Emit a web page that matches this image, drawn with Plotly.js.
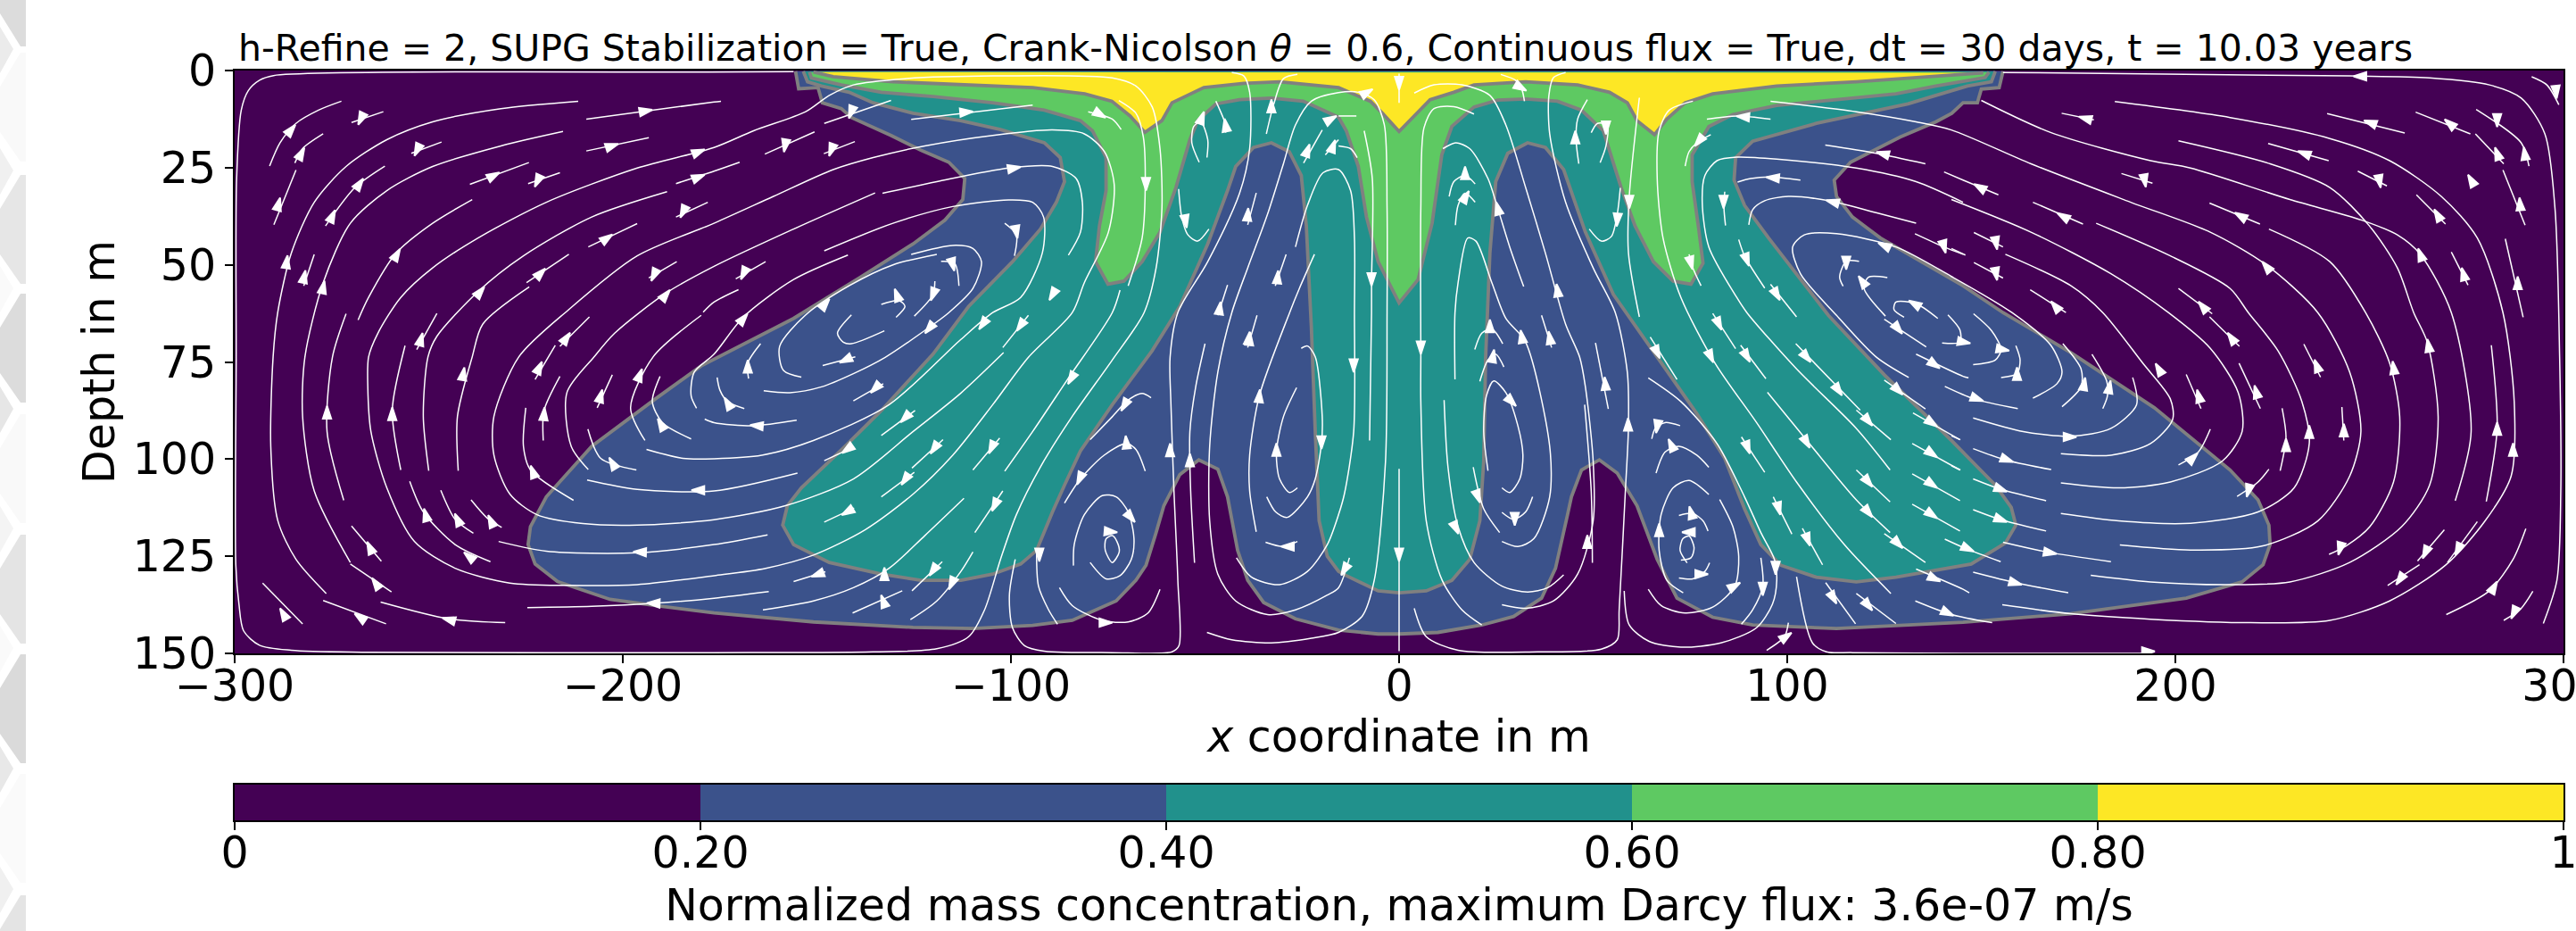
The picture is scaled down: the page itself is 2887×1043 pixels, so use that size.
<!DOCTYPE html>
<html><head><meta charset="utf-8">
<script src="https://cdn.plot.ly/plotly-3.0.1.min.js"></script>
<style>html,body{margin:0;padding:0;background:#fff}#chart{width:2887px;height:1043px}</style>
</head><body><div id="chart"></div>
<script>
// Filled band boundaries [x in m, depth in m]
const level20 = [-155.5,0.2,-154.7,4.7,-149.7,4.4,-148.6,8.3,-143.7,9.8,-141.1,12.1,-130.9,16.7,-123.2,20.5,-116,23.6,-111.9,27.8,-112.4,33.2,-117,38.5,-125.2,44.6,-138.6,53.1,-156,63.8,-179.8,76,-191.6,84.5,-208,96.7,-219.7,109.7,-223.8,117.4,-224.4,122,-222.6,127,-216.8,131.5,-203.3,136.1,-191.6,137.7,-176.5,139.6,-150.9,141.9,-125.2,143.3,-109.8,143.6,-94.4,142.8,-84.2,141.5,-72.9,136.5,-67.8,131.2,-65.2,127.3,-62.6,118.9,-60.6,112,-56.5,104,-51.6,100.2,-46.7,102.6,-44.2,109.7,-41.6,123.5,-39,131.2,-34.9,136.9,-26.7,141.1,-15.6,144,-5.4,145,0,145,10,144.6,21.3,142.7,29.5,140.5,36.7,135.8,40.3,128.1,43.4,114.3,44.4,109.7,47,102.8,51.6,100.2,56.2,103.6,61.3,112,66.5,125.8,71.6,135.8,80.8,140.7,91.1,142.7,112.7,143.6,145.3,142,173,139.8,202.8,135.8,217.2,131.6,222.6,127.2,224.4,122,224.1,117,221.3,110.5,214.1,102.8,194.6,86.8,173.1,72.6,155.6,62.3,145.3,55.4,124,43.1,116.8,37.7,112.7,32.4,112.1,28.2,116.3,23.6,129.1,17.1,138.3,13.2,142.4,11,145.3,8.3,149,8.3,150,4.8,154.6,4.4,155.6,0.2];
const level40 = [-153.5,0.2,-152.4,2.9,-148.8,4,-141.7,5.6,-135.5,8.3,-125.2,11,-113,12.9,-102.7,15.2,-91.4,18.6,-87.3,22.4,-86.2,28.6,-88.3,33.9,-92.4,40.8,-99.6,49.2,-110.9,60.7,-120.1,73,-133.4,87.5,-142.7,96.7,-154,107.4,-157.6,112,-158.8,117,-156,122,-146.8,126.6,-133.4,129.6,-123.2,131.2,-112.9,131.2,-104.7,129.6,-97.5,127,-93.4,123.5,-89.3,113.6,-86.2,106.7,-82.1,97.9,-73.9,86,-63.7,72.2,-56.5,60.7,-49.3,44.6,-44.2,30.9,-42.1,24.7,-37.5,19.8,-32.9,18.6,-28.3,20.9,-25.2,27,-23.9,40,-22.6,66.1,-21.6,92.9,-20.6,115.9,-18.5,125,-15.6,128.9,-13.6,130,-5.4,133.9,0,134.4,7,133.9,13.6,131.2,18.2,125.8,20.8,115.9,21.8,100.6,22.3,73.7,23.4,46.9,24.9,28.6,28,21.3,33.1,18.6,37.7,19.8,42.4,25.5,48,41.6,55.2,57.6,66.5,73.7,76.7,88.3,83.9,99.8,89,112.8,93.2,122,98.3,127.3,107.5,130.4,117.8,131.6,128,130.4,142.3,128,147.4,127,156.2,121.6,158.9,117,157.7,112.4,153.6,106.7,142.3,95.2,125,78.3,110.6,63,95.2,43.1,89,34.7,86.3,28.2,86.7,22.4,91.1,18.2,107.5,13.6,118.8,11.3,131.1,8.6,138.3,6.4,146.4,4,152.6,2.9,153.6,0.2];
const level60 = [-151.9,0.4,-151.4,1.9,-143.7,3.7,-133.4,5.6,-120.1,6.7,-104.7,8.3,-91.4,10.2,-82.1,12.9,-79,15.5,-75.5,22.4,-75.5,30.9,-77.2,40,-78.2,49.2,-75,55,-70.9,54.2,-66.2,49.2,-61.6,41.6,-57.5,30.1,-53.9,17.8,-51.9,12.9,-47.2,8.6,-41.1,7.5,-32.9,7.1,-24.7,7.9,-15.6,12,-13.6,15.5,-10.5,24.7,-8.4,37.7,-5.4,49.2,0,59.8,4.9,53.8,8.5,39.3,11,21.7,13.6,14.4,19.3,9.4,25.4,7.6,32.6,7.3,40.8,7.9,47,10.2,52.6,15.5,57.2,30.1,60.8,40,65.5,49.2,70.6,54.2,75.2,55,78.3,49.6,77.2,40.8,75.5,28.6,75.5,21.7,79.8,14.4,86,11.3,97.3,9,112.7,7.5,128,6,138.3,4,146.4,2.5,151,1.8,152,0.4];
const level80 = [-150.9,0.4,-145.8,1.6,-130.4,2.9,-113,3.7,-94.4,4.4,-81,6,-74,7.9,-69.3,11.7,-65.5,15.9,-61.1,12.9,-58.5,8.3,-50.3,4.4,-40,3.3,-30.8,2.9,-15.6,4.4,-7.4,7.9,-4.3,11,0,15.7,4.9,10.6,8,7.5,14.1,5.6,19.3,3.7,32.6,2.9,46,3.7,54.2,5.6,58.8,8.3,61.3,12.9,65.8,16.5,69,12.5,73.7,8.3,80.8,6,97.3,4,117.8,2.9,133.2,1.9,145.3,1,150.5,0.6];

// Streamlines, each a flat list x,depth,x,depth...
const streamsLeft = [
[-156,0.3,-178,0.4,-290,1.3,-293.6,2.5,-296.5,5.2,-298.3,10.2,-299.5,28,-299.6,74,-299.7,127.3,-298.9,137.3,-297.7,144.2,-293.6,147.9,-285.4,149.2,-266.6,149.7,-176.5,149.8,-135.5,149.6,-119.1,148.8,-110.9,145.7,-106.8,138.8,-102.7,125.8,-98.6,114.3,-92.4,102,-84.2,89,-73.9,74.5,-65.7,62.3,-62.6,50.8,-61.1,35.4,-61.6,20.1,-63.6,9.4,-67.8,4,-73.9,1.9,-104.7,1.4,-127.3,2.1,-140.6,3.7,-146.8,6.4,-152.9,10.6,-166.3,15.5,-176.5,19.8,-196.3,25.1,-219.7,33.9,-237.3,43.1,-249,50.8,-257.2,58.4,-263.1,67.6,-265.5,73.7,-265.7,81.4,-264.9,92.9,-260.8,107.4,-253.7,121.2,-243.2,128.1,-229.1,131.9,-213.9,132.5,-196.3,132.3,-176.5,130,-163.2,128.1,-150.9,124.7,-137.6,118.2,-125.2,109,-115,99,-104.7,86,-95.5,73.8,-84.2,62.3,-81.1,54.6,-74.9,41.6,-73.4,29.3,-75.9,20.9,-81.1,16.3,-89.3,15.3,-104.7,16.7,-122.2,19.4,-135.5,22.4,-145.8,25.5,-161.2,32.4,-176.5,39.3,-196.3,47.7,-213.9,61.5,-226.8,73.7,-233.2,89,-233.2,99,-229.1,109,-222.1,114.3,-210.3,116.6,-196.3,117,-176.5,115.6,-158.1,112,-140.6,105.1,-125.2,92.9,-112.9,83,-101.9,72.6],
[-291,24.6,-288.3,18.6,-284.2,13.6,-278.4,10.2,-272.5,7.9],
[-284.5,23.8,-282.5,20.1,-277.2,16.3],
[-269.9,13.4,-261.7,10.6],
[-211.5,7.9,-231.4,9.8,-249,13.2,-260.8,17.8,-271.3,24.7,-279.5,33.9,-285.4,47,-288.9,62.2,-290.1,73.7,-290.7,96.7,-288.9,115.8,-284.2,125.8,-276.4,134.6],
[-215.4,15.7,-231.4,19.4,-249,24.7,-260.8,30.9,-270.2,39.3,-277.2,54.6,-281.9,73.7,-282.5,89,-279.5,108.2,-270.2,126.6],
[-209.4,12.5,-176.5,8.1,-174.7,7.9],
[-209.4,20.7,-193.3,17.3],
[-254.5,21.3,-246.7,18.4],
[-289.9,39.7,-284.2,25.6],
[-261.3,24.6,-269,30.1,-276.6,40],
[-279.5,47.3,-282.2,55.4],
[-239.4,29.3,-224.2,23.7],
[-224.4,29.1,-216.2,26.3],
[-238.8,33.2,-249,39.3,-258.4,47,-265.5,58.4,-268.2,64.2],
[-193.9,97.5,-184.5,99.8,-176.5,99.9,-164.2,99,-150.9,95.2,-131.4,86,-112.9,69.2,-104.7,62.3,-97.5,58.4,-91.9,46.9,-91.6,37.7,-94.4,33.9,-100.6,33.3,-115,35,-130.4,39.3,-148.1,46.4],
[-133.1,31.6,-119.1,28.6,-100.6,25.1,-89.3,24.7,-83.2,27.8,-81.6,33.9,-82.1,41.6,-85.2,47.5],
[-135,31.5,-156,40.8,-176.5,50.4,-188.9,57.3,-202.1,67.6,-207.4,73.7,-214.4,82.9,-213.3,96.7,-208.9,102.7],
[-142,47.5,-156,53.8,-168.9,63.4,-176.5,73,-181.6,77.6,-182.4,83.7,-181,86.9],
[-186.3,29.1,-176.5,25.9,-169.9,23.6],
[-186.3,37.7,-178.1,33.9],
[-179.3,62.2,-176.5,59.6,-170.2,56.4],
[-170.9,53.6,-163.2,49.2],
[-193.3,53.4,-186.1,49.2],
[-208.9,45.4,-196.3,39.4],
[-224.8,54.6,-213.9,47.3],
[-224.1,55.7,-236.1,65.3,-238.8,73.7,-242.6,89,-242.4,103],
[-188.6,31.2,-208,37.7,-225.6,47.7,-237.3,56.9,-247.9,68.4,-250.2,73.7,-251.4,89,-250,103],
[-208.6,63.4,-216.2,71],
[-217.4,70.7,-220.3,75.6,-222.6,79.5],
[-216.2,78.7,-220.3,87.5,-220.5,95.2],
[-225,86.8,-225.6,96.7,-223.8,102.8,-212.7,110.6],
[-202.7,78.3,-206.6,86.8],
[-179.8,63,-192.2,73.7,-198,86.8,-194.3,95.2],
[-190.4,78.7,-192.4,85.2,-189.8,90.6,-182.4,94.8],
[-256.1,70.8,-259.4,87.5,-257.2,102.8],
[-271.3,62.6,-274.8,73.7,-276.2,92.9,-271.9,110.6],
[-254.9,105.7,-251.4,113.6,-243.2,122,-234.1,126.4],
[-246.9,108,-243.2,115.5,-238.5,119.1],
[-239.1,110.5,-235,115.1,-231.2,117.6],
[-232,121.2,-219.7,123.7,-196.3,124.1,-176.5,122,-162.7,119.5],
[-224.6,138.2,-208,137.9,-191.6,137.1,-176.5,135.8,-162.4,134.1],
[-209.2,105.4,-196.3,107.8,-176.5,108.2,-155,103.6],
[-209,92.3,-205.7,99.8,-196.5,102.8],
[-269.9,117.2,-262.2,126.3],
[-270.2,127,-259.6,134.2],
[-277.2,136.4,-261,142.4],
[-292.8,131.9,-282.5,142.4],
[-262.4,136.8,-244.9,141.1,-230.3,142.1],
[-247.9,62.5,-253.1,71.8],
[-178.9,89.7,-176.5,90.6,-166.3,91.4,-155.2,90],
[-175.7,79,-175,82.2,-173,85.2,-168.7,87],
[-167.6,79.3,-167.8,75.3,-164.5,70.3],
[-119.1,47.3,-130.4,50,-141.7,55.4,-153,63,-159.6,71,-158.6,77.2,-154,78.9],
[-163.7,82.4,-157,82.9,-148.8,81.4,-140.6,78,-132.4,73.8,-122.2,66.9,-116,62.3,-109.8,56.1,-107.6,49.2,-109.8,45.8,-115,45,-125.7,47.3],
[-141.1,62.9,-144.7,67.6,-143.2,69.9,-141.1,70.3,-132.6,67],
[-148.5,75.9,-140.1,73.7],
[-148.1,116.2,-140.4,112.6],
[-133.4,109.7,-124.9,103.4],
[-125.5,102.3,-117.5,95],
[-133.4,93.9,-124.7,87.5],
[-102.1,71.3,-95.5,63],
[-148.1,100.4,-140.6,96.9],
[-140.6,85,-132.9,80.6],
[-156,131.5,-147.8,129],
[-140.8,139.6,-128,133.9],
[-125.5,133.9,-117.7,126.4],
[-163.9,138.8,-150.9,136.5,-140.6,133.1,-131.4,128.1,-122.2,119.7,-112.1,110.1],
[-125.9,141.3,-119.1,136.5,-112.9,128.9,-109.8,123.9],
[-109.3,118.9,-102.1,108.2],
[-109.8,102.8,-102.9,94.6],
[-101.6,103.1,-94.4,92.9,-85.7,79.9,-73.9,62.3,-71.9,56.5],
[-63.9,84.2,-66.2,83.1,-69.8,84.8,-73.9,89.1,-79.6,95],
[-65.4,103.1,-67.8,97.5,-70.3,96,-76,99,-82.1,105.1,-86.2,111.3],
[-83.9,127.4,-83.7,122,-81.1,114.3,-76.5,109.4,-72.9,109.7,-69.8,113.6,-68.3,120.5,-69,125.8,-71.9,130,-75.5,130.8,-79.6,126.6],
[-73.9,126.6,-75.7,123.5,-75.5,120.5,-73.9,119.7,-72.7,121.2,-72.1,123.9,-73.9,126.6],
[-87.5,133.1,-84.2,137.7,-76.5,141.5,-69.8,141.9,-64.7,139.6,-61.6,133.5],
[-93.4,123.5,-92.9,132.7,-90.3,138.8,-88,142.5],
[-98.9,125.8,-100.4,135,-99.6,143.4,-96.5,148,-91.4,149.4,-73.9,149.8,-58.5,149.6,-56.7,148,-57,131.2,-58,108.2,-58.8,85.2,-59,73.8,-57,62.3,-49.3,49.2,-41.1,31.6,-38.5,20.1,-38.5,5.6,-40,1.4,-43.1,0.5],
[-52.7,126.7,-53.7,108.2,-53.9,92.9,-52.4,81.4,-50,70.3],
[-49.5,144.6,-43.1,146.5,-32.9,147.3,-22.6,146.1,-15.6,144.6,-9.5,140.4,-6.4,131.2,-3.5,100.6,-3.1,62.3,-3.1,35.4,-3.8,14,-6.4,7.5,-10.5,5.6,-15.6,5.7,-22.6,7.9,-26.7,14,-29.8,24,-33.9,37,-39,50.8,-43.1,62.3,-46.7,77.6,-48.8,96.7,-48.8,115.9,-46.7,129.6,-42.1,136.5,-33.9,140,-26.7,138.8,-18.5,135,-15.6,133.1,-12.8,125.4],
[-21.8,47.3,-25.7,56.1,-28.2,62.3,-36,83.7,-38.5,99,-38.5,108.2,-36.8,118.7],
[-41.9,125.4,-38,130.4,-30.8,132.3,-23.6,128.9,-18.5,122,-15.6,114.3,-14.1,109,-11.7,92.9,-11.5,62.3,-11.5,43.1,-12.5,30.9,-15.6,25.5,-19.6,26.3,-23.6,34.7,-26.7,45.4],
[-25.2,71.5,-23.6,70.9,-21.6,73.7,-19.8,89.1,-20,96,-21.6,105.1,-23.6,109.7,-28.8,115,-31.8,113.6,-34.1,109.7],
[-26.4,81.6,-29.8,89.1,-31.6,98.3,-30.8,105.1,-28.2,108.6,-26.2,107.4],
[-34.4,121.4,-29.8,122.5,-26.2,121.2],
[-36.6,63,-39,71.3],
[-163.4,21.5,-150.6,15.8],
[-148.1,13.6,-130.9,7.7],
[-148.2,21.4,-140.2,18.3],
[-125.7,12.6,-94.4,8.9],
[-80.1,10.6,-73.9,12.5,-71.6,15.2],
[-72.2,7.7,-67.8,11,-65.9,17.1,-65.4,29.3,-66.2,43.1,-69.8,55.4],
[-101.6,39.3,-98.6,42.3,-99.1,47.7],
[-118,49.1,-114.5,49.6,-113.4,55.4],
[-119.6,54.2,-120.1,57.7,-124.9,63.2],
[-133.4,60.2,-128.8,59.2,-127.3,60.7,-129.6,63.5],
[-56.8,30.5,-56,37.7,-54.4,42.3,-51.9,43.9,-49,40.8],
[-51.5,23.6,-53.4,18.6,-52.9,14.4,-51.1,13.2,-49.3,17.8,-49.5,22.4],
[-47.2,7.9,-44.7,14,-44.7,16],
[-26.2,1,-29.8,2.1,-32.3,8.7,-34.2,16.3],
[-29.1,47.3,-31.9,55.4],
[-44.2,55.2,-46.7,63],
[-36.8,31.5,-39,39.7],
[-19.8,15.3,-24.6,23.8],
[-15.6,17.8,-19,21.7]
];
const streamsCenter = [
[0,0.8,0,8.3],
[-15.6,11.7,-11,11.7],
[-9,15.5,-6.9,27.8,-7.1,54.6,-7.1,62.3,-7.6,95.2],
[3.9,5.8,9,3.7,16.2,3.7,23.4,6.4,27.5,14,32.6,30.1,37.7,47,42.9,65.3,46.5,73.7,48,81.4,50,100.5,50,115.9,46,129.6,39.8,136.5,32.6,138.4,26.5,137.5],
[19.3,11.2,14.1,9.3,9,9.8,6.4,14.8,5.6,35.4,5.6,73.7,5.6,85.2,7,115.9,11.1,131.2,16.2,138.8,21.3,142.7],
[-15.6,19.4,-12.5,20.1,-10.8,22.4],
[0,102.5,0,149.4],
[11.6,84.8,12.6,102.1,15.2,117.4,19.3,126.6,26.5,132.7,33.1,134.2,38.3,133.1,42.4,129.8],
[11.3,20.1,14.6,18.6,18.2,20.1,22.9,27.8,25.4,35.4,28.5,45.4,32.1,55.6],
[12.9,32.4,14.1,28.6,17,27,19.6,29.2],
[14.5,39.8,15.2,34.7,17,31.6,19.6,33.9],
[14.4,79.5,14.4,62.3,15.2,54.6,17.7,43.1,19.8,43.9,23.9,54.6,27.5,63.8,32.6,69.9,38.8,96.7,38.8,109.7,34.7,120.5,30.6,122.5,26.5,121.2],
[19.5,71.8,21.3,67.6,23.9,66.5,26.7,70.3],
[20.8,80,22.9,74.5,24.9,73,27,76.3],
[26.2,1,30,2.5,31.6,4.8,32.3,7.9],
[42.9,0.5,39.8,1.8,38.6,6.4,38.8,16.3,42.9,33.9,50,50.8,55.7,62.3,58.8,77.6,59.1,91.4,58.3,108.2,56.7,138.8,56.2,146.5,52.1,148.9,35.7,149.6,15.2,149.2,7,145.7,3.9,138.4],
[48.5,7.5,46,12.5,45.6,17.8,46.3,24],
[49.5,16,51.1,13.6,53.6,14,53.3,19.4,51.8,23.7],
[61.9,7,59.3,32.4,59.1,47,61.9,63.4],
[49,40.8,52.1,43.9,54.7,42.7,56.2,37,57,30.2],
[75.7,7.9,69.6,10.2,67,15.5,66.5,27.8,68,43.1,72.6,58.4,81.4,75.3,92.1,90.6,102.4,105.9,114.7,122,126.7,134.6],
[64.2,79.1,72.6,85.2,81.9,96,89,109.7,93.2,118.9,96.7,125.8,97.3,131.2,96.2,137.3,92.1,143.4,82.9,147.3,72.6,148.4,64.4,146.9,59.3,142.7,58,133.9],
[19.1,102.1,21.8,112.8,25.9,118.9],
[22.9,103,21.8,92.9,22.5,83.7,24.4,79.9,27.5,82.9,30.6,91.4,31.9,99,31.1,105.1,28.5,108.6,26.5,107.4],
[26.5,113.7,29.5,115.5,32.6,113.6,34.4,109.7],
[36.7,63,39.3,71.3],
[50.6,70.1,53.9,87.1],
[47.8,86,49.5,108.2,49.8,126.7],
[79.3,12.5,87,11.7,95.7,12.5],
[80.3,16.5,76.7,18.6,74.7,20.9,73.7,24.6],
[74.7,47.3,75.7,50.8,77.8,55.4],
[103.4,28.2,95.7,27.4,90.6,27.8,87.2,28.7],
[145.3,33.9,133.2,28.6,117.8,25.1,97.3,22.8,87,22.3,81.9,23.2,78.8,27,78.1,33.9,79.8,45.4,87,58.4,89.6,62.3,102.4,76.8,117.8,92.1,126.5,102.8],
[133.2,39.3,122.9,36.6,110.6,33.5,100.3,32.4,94.2,33.5,91.1,35.8,90.1,39.7],
[83.9,31.2,83.7,35.4,84.1,39.9],
[87.5,43.5,89,47.7,94.2,56],
[95.7,55,102.4,63.4],
[131.3,79,122.9,73.7,112.7,63,103.4,52.3,101.4,45.4,104.4,42.3,112.7,42,128,45.4,142.3,53,157.9,62.3,167.9,70.7,170.8,77.6,169.5,80.6,163.3,84.3],
[109.8,19.2,122.9,21.3,135.6,24],
[140.4,26.1,145.3,28.2,154.4,32],
[132.9,42,140.4,45.4,145.3,47.3],
[118.5,49.1,115.2,49.1,113.5,53.1,114.4,55.5],
[125.8,53.3,120.9,53.2,119.8,56.1,125.3,63.2],
[138.8,63.8,133.2,60,128,59.6,127.5,61.5,130.1,63.5],
[125,64,135.8,71.1],
[141.4,62.9,144.5,66.8,144.5,69.9,139.9,70.1],
[80.8,62.5,86.7,71.6],
[88,70.7,94.5,79.3],
[64.7,68.6,71.6,79.5],
[102.2,70.3,118.8,87.4],
[94.9,82.8,104.4,94.4,117.8,110.5,126.5,118.9],
[117.8,87.4,126.7,95],
[88.2,94.3,94.2,103.4],
[117.8,102.8,126.5,111],
[96.4,109.7,101.2,119.3],
[103.9,117.8,109.1,127.2],
[125,119.2,135.6,126.6],
[109.9,131.8,117.6,142.4],
[117.8,134.6,128,142.3],
[133,136.5,142.3,140,152.8,142.1],
[133.2,128.3,145.3,133.5,146.9,134.4],
[133.2,73,145.3,78.7,146.7,79.1],
[125,79.7,135.6,87.1],
[140.6,81.3,148.1,84.5,159.4,87],
[132.4,88.1,144.5,95],
[132.2,96,144.5,102.8],
[132.2,103.8,144.5,110.7],
[132.2,111.6,144.5,118.5],
[140.6,120.6,146.2,123.1,155,126.4],
[93.2,125.4,93.7,132.7,91.1,138.8,88.2,142.5],
[100.3,142.1,99.3,145.7,94.7,149.2],
[102.4,130.3,106.5,147.3,110.1,149.6,116.8,149.8,145.3,150,193,150],
[64.2,133.5,67.5,137.7,73.7,139.6,80.8,138.1,86.5,132.7,87.5,125.1,86,117.4,82.6,110.4],
[79.8,109.1,74.7,105.5,70.6,107.4,67.5,114.3,67,123.5,69,131.2,73.2,134.4],
[66.2,103.6,68.5,98.2,72.1,96.7,76.7,99,79.8,102.1],
[65.1,94.8,66,92.1,68.5,90.6,72.4,91.4],
[72.1,114.5,75.7,114,78.3,115.9,79.6,118.5],
[74.2,126.7,72.4,123.5,73.1,120.5,74.7,119.8,76,122.8,75.2,125.4,72.6,126],
[72.1,130.6,75.7,130.8,78.8,128.9,80,126.7]
];
const streamsRight = [
[155.6,0.5,244.9,1.4,265.5,1.9,280.9,3.7,289.1,7.1,295.2,16.3,297.8,35.4,299,73.7,299.3,108.2,298.3,131.2,294.8,142.3],
[291.8,1.6,295.7,3.7,298.8,8.8],
[95.7,7.9,117.8,10.6,133.2,13.2,142.3,15.3,162.8,24,188.5,33.9,209,41.6,223.4,50,236.7,62.3,244.9,77.6,247.8,92.9,244.9,104.4,236.7,115.9,222.3,122.4,203.9,123.4,185.7,122.1],
[142.3,33.2,162.8,41.6,183.4,52.3,198.2,62.3,209,71.5,216.2,82.9,217.2,92.9,212.1,100.5,198.7,105.9,185.4,107.4,170.5,106.1],
[184.4,8,214.1,12.1,239.8,17.5,255.2,23.2,268.5,32.4,277.8,43.1,284.4,62.3,287.3,85.2,286.5,104.4,279.8,115.9,269.6,127.3,255.2,136.5,239.8,141.5,219.3,142.1,193.6,141.2,173.1,139.8,155.4,137.5],
[150,7.7,168,16,193.6,23.2,203.9,25.1,229.5,33.2,248,38.5,257.2,42.3,263.1,47.3,271.1,62.3,276.2,92.9,272.1,110.7],
[200.8,18.1,224.4,24,239.8,30.1,250,40,257.2,50.8,261.4,62.3,264.9,69.9,267.7,89.1,265.5,106.7,258.3,117.4,244.9,126.6,229.5,131.6,214.1,132.3,193.6,131.6,178.2,129.9],
[224.1,40.8,239.8,49.2,249,62.3,255.2,75.3,257.8,89.1,256.2,105.9,250.1,117.4,243.9,122.4,239.6,124.5],
[179.6,39.3,198.7,47.7,214.1,56.1,218.8,62.3,226.5,72.2,232.6,85.2,234.5,96,230.6,107.4,221.3,113.6,203.9,116.5,185.4,115.9,170.5,114],
[156.2,47.3,173.1,55.4,181.3,62.3,191.6,75.3,198.7,84.5,199.3,89.8,193.6,96,183.4,99,170.5,98.6],
[147.9,89.4,160.8,92.9,173.1,94.1,183.4,92.1,190,86,189,79],
[171,70.3,175.7,76.8,175.7,81.4,170.8,86.5],
[178.5,73,182.3,79.9,182.5,83.7,181.3,87],
[148,62.6,152.6,66.9,155.1,71.8,153.6,74.5,147.9,75.7],
[158.9,70.8,160,74.5,159.2,78,155.1,79],
[170.7,11,179,12.7],
[239.1,11.1,259.1,16.1],
[261.9,10.7,276,16.3],
[277.5,10,289.1,18.6,291.1,24.6],
[277.3,16.3,284.6,24],
[284.4,25.6,290.1,39.8],
[223.9,18.8,239.5,23.2],
[247,25.9,254.5,29.7],
[186.1,26.5,194.1,29],
[262.1,32,269.6,39.5],
[208.8,34.1,221.8,39.5],
[163.3,33.9,176.2,39.5],
[148.1,41.7,155.6,45.4],
[142.3,45.8,145.9,47.5],
[148.1,49.4,155.6,53.4],
[162.6,56.4,171.8,62.3],
[200.8,56.1,209.5,62.6],
[208.8,63.4,216.5,71],
[271.1,46.7,275.4,55.2],
[285,43.3,289.6,63.5],
[233.1,70.4,237.4,78.9],
[202.8,78.2,206.6,87],
[216.4,75.3,221.9,87],
[227.5,86.9,228.5,94.4,227,103],
[242.9,86.6,243.4,95.2],
[281.4,70.7,282.9,92.1,280.1,110.9],
[200.8,101.5,205.9,98.2,209,92.3],
[215.9,109.6,221.3,105.9,224.1,102.6],
[262.4,126.2,269.3,118.2],
[270.1,126.6,277.8,116.1],
[254.7,132.5,262.9,127.2],
[269.8,140,280.9,133.9,287,125.8,290.3,117.9],
[284.6,141.5,289,138.5,292.1,134],
[142.3,94,144.6,95],
[147.9,97.3,156.2,100.2,168,102.7],
[142.3,101.7,144.6,102.8],
[147.9,105.1,155.1,107.8,166.7,110.7],
[147.9,113,155.1,115.6,166.7,118.5],
[155.6,121.4,166.9,123.9,183.4,126.4],
[147.9,129.1,159.2,131.9,172.4,134.4]
];

// Arrowheads: x, depth, heading in degrees clockwise from up
const arrowsLeft = [
[-285.4,15.2,40],[-282.8,21.3,28],[-267.5,12.5,205],[-253,20.5,205],[-288.7,34.3,15],[-274.8,37.4,25],[-267.8,29.1,35],[-286.6,49.2,8],[-282.1,53,12],[-277.2,55.7,12],[-233.2,27,62],[-202.7,19.4,72],[-194,10.4,80],[-180.4,20.9,68],[-180.4,27.4,68],[-184.5,36.4,205],[-258.2,47.3,30],[-204,43.1,55],[-221.1,52.1,45],[-192,52.7,205],[-236.7,56.9,40],[-188.9,57.7,40],[-214.5,68.8,35],[-252,69.1,15],[-222,28.5,205],
[-241.1,78,10],[-221.5,76.4,25],[-195.6,78.3,20],[-205.7,83.7,15],[-276.2,87.9,0],[-259.4,88.3,0],[-220.3,88.3,5],[-190.2,91,-30],[-202.7,101,-30],[-223.2,103.2,-20],[-180.7,108,-90],[-250.8,114.3,-15],[-242.6,115.5,-25],[-234,115.9,-25],[-265.2,122.7,-25],[-239.7,125,-50],[-195.7,123.9,-88],[-263.7,131.9,-35],[-287.5,139.8,-30],[-267.8,140.7,-55],[-244.9,141.3,-75],[-192.2,137.1,-88],
[-168.9,63.8,40],[-168.9,52.3,205],[-158.2,19.4,190],[-146.3,20.5,200],[-141.2,10.8,200],[-111.4,10.7,85],[-99.1,25.1,80],[-77,11.3,120],[-65.2,29.3,180],[-98.6,41.6,170],[-55,38.9,170],[-50.8,12.1,20],[-44.7,14,-10],[-32.9,9.1,0],[-17.5,12.5,60],[-23.6,20.5,20],[-17,19.4,20],[-39,37,5],[-31.3,53.1,5],[-46.2,61.1,8],[-38.7,68.8,8],[-89.3,57.7,210],[-107.3,65.3,215],[-97.6,65.7,215],[-121.1,66.4,220],[-115,50,165],[-120.1,57.7,200],[-129.4,57.7,-20],[-147.8,60,40],
[-167.8,76.1,0],[-142.7,74.5,245],[-173,85.6,-30],[-135,81.8,225],[-165.6,91.4,-85],[-127.3,89.4,225],[-142.2,97.5,235],[-119.8,97.3,215],[-105,97.1,205],[-84.5,79.3,210],[-127.3,105.3,215],[-142.2,113.6,240],[-104.2,111.9,205],[-70.8,86.2,210],[-70.3,95.6,-5],[-82.3,105.1,205],[-59,97.6,0],[-53.9,100.2,0],[-36,83.7,5],[-38.5,69,5],[-31.6,97.5,0],[-20,95.8,180],[-69.1,115,140],[-74.2,118.7,95],[-92.7,124.7,180],[-132.6,129.5,0],[-149.9,129.7,250],[-120.1,128.7,215],[-115.3,132.1,205],[-132.9,136.5,340],[-75.5,142.1,90],[-28.8,122.5,-90]
];
const arrowsCenter = [
[0,3.3,180],[-8.2,5.6,60],[-7.1,53.8,180],[5.6,71.4,180],[17,26.3,0],[17.2,32.4,30],[25.4,35.4,-15],[23.4,65.7,0],[24.2,73.4,10],[31.4,4.4,120],[45.4,17.1,0],[53.3,14.8,180],[56.2,38.5,185],[59.3,33.9,180],[77.2,18.2,220],[75.2,49.6,165],[88.5,11.9,-85],[96.2,27.6,-85],[83.6,33.9,180],[111.6,33.8,-75],[124.5,21.4,-75],[124.9,45,-65],[89.6,48.8,160],[97.3,57.7,150],[115.2,49.6,180],[119.3,54.2,-35],[132.7,60,-60],[128.6,66.5,140],[140.4,45.4,165],[40.8,56.5,-8],[31.6,68.4,-10],[38.8,68.7,-10],
[-11.7,76,180],[-14.1,128.5,210],[0,124.7,180],[14.6,117.8,155],[20.3,109.7,160],[29,85.2,135],[29.8,115.5,180],[53.1,80.5,-5],[59,91,0],[48.5,121.2,0],[82.4,65.3,155],[80.3,73.7,155],[89.6,73.6,150],[66.5,72.6,155],[105,73.8,140],[113.2,82.3,145],[120.9,90.2,140],[105,95.7,150],[120.9,105.9,140],[120.9,113.7,140],[89.8,97.1,160],[97.8,112.8,165],[105.3,120.8,160],[66.5,91.7,190],[70.1,96.3,-25],[75.2,113.7,-15],[74.5,118.8,-90],[78,129.6,90],[67,118.2,0],[86.5,132.6,60],[97,128.1,180],[93.7,133.5,180],[99.8,145.6,55],[111.9,135.8,150],[120.9,137.7,140],[128.6,121.8,135],[128.6,82.3,135],[138,75.7,125],[137.3,90.7,125],[137.3,98.6,125],[137.3,106.5,125],[137.3,114.3,125],[138,130.8,115],[141.4,139.6,115]
];
const arrowsRight = [
[145.6,69.9,100],[155.6,71.8,100],[159.2,78,0],[149,84.5,110],[176.5,80.6,10],[183,81.4,10],[172.9,94.3,90],[156.7,100.2,110],[204.6,99.6,45],[155.1,107.8,110],[155.1,115.6,110],[146.6,123.1,115],[167.8,124.1,100],[158.9,131.9,105],[218.8,108.2,195],[242.4,123.1,195],[228.5,96.3,0],[234.5,92.9,0],[243.4,92.5,0],[206,83.7,-15],[220.8,82.6,-15],[214.4,68.8,-35],[236.4,75.9,-20],[195.7,76.8,-30],[256.2,76.4,-8],[265.2,70.7,-10],[282.9,92.1,0],[287,97.5,0],[264.4,124.1,205],[272.8,123.3,205],[257.8,131,215],[282.1,132.9,30],[287.2,139.6,205],[193.1,149.5,90],
[247.5,1.5,-90],[298.1,5.6,175],[176.7,12.3,-75],[250.1,13.4,-70],[270.6,13.6,-50],[282.9,12.9,180],[282.9,21.3,-20],[290,21.3,-8],[233.1,21.3,-70],[192.1,28.4,170],[252.6,28.6,170],[276.2,28.2,-30],[216.7,37.4,-60],[171,37.5,-60],[149.5,30,-60],[267.5,37.1,-30],[288.8,34.3,-5],[263.1,47.3,-20],[223.4,50.4,-40],[153.8,44.5,170],[153.8,52.4,170],[274.2,52.3,-15],[288.2,54.6,0],[169,60.6,-40],[207,60.7,-40]
];

const bandColors = ['#440154','#3b528b','#21918c','#5ec962','#fde725'];
const bandEdges = [0,0.2,0.4,0.6,0.8,1];
const barTickLabels = ['0','0.20','0.40','0.60','0.80','1'];
const xTicks = [-300,-200,-100,0,100,200,300];
const depthTicks = [0,25,50,75,100,125,150];

const xs = a => a.filter((_, i) => i % 2 === 0);
const ys = a => a.filter((_, i) => i % 2 === 1);
const FONT = '"DejaVu Sans", sans-serif';
const traces = [];

[level20, level40, level60, level80].forEach((lvl, i) => {
  traces.push({type:'scatter', mode:'lines', x:xs(lvl), y:ys(lvl), fill:'toself', fillcolor:bandColors[i+1],
    line:{width:0}, hoverinfo:'skip', showlegend:false});
  traces.push({type:'scatter', mode:'lines', x:xs(lvl), y:ys(lvl), line:{color:'#808080', width:3.8},
    hoverinfo:'skip', showlegend:false});
});

const sx = [], sy = [];
[...streamsLeft, ...streamsCenter, ...streamsRight].forEach(p => {
  sx.push(...xs(p), null); sy.push(...ys(p), null);
});
traces.push({type:'scatter', mode:'lines', x:sx, y:sy, connectgaps:false,
  line:{color:'#ffffff', width:1.5, shape:'spline', smoothing:0.8}, hoverinfo:'skip', showlegend:false});

const arrows = [...arrowsLeft, ...arrowsCenter, ...arrowsRight];
const rad = a => a * Math.PI / 180;
traces.push({type:'scatter', mode:'markers',
  // the 'arrow' symbol has its tip on the point, the arrays hold the head's centre
  x: arrows.map(a => a[0] + 1.6 * Math.sin(rad(a[2]))),
  y: arrows.map(a => a[1] - 1.6 * Math.cos(rad(a[2]))),
  marker:{symbol:'arrow', size:15, color:'#ffffff', angle:arrows.map(a => a[2]), line:{color:'#ffffff', width:2}},
  hoverinfo:'skip', showlegend:false});

traces.push({type:'bar', orientation:'h', xaxis:'x2', yaxis:'y2',
  y:bandColors.map(() => 0), x:bandColors.map((_, i) => bandEdges[i+1] - bandEdges[i]),
  base:bandEdges.slice(0, -1), width:1, marker:{color:bandColors, line:{width:0}},
  hoverinfo:'skip', showlegend:false});

const axisCommon = {showgrid:false, zeroline:false, showline:true, linecolor:'#000', linewidth:2,
  ticks:'outside', ticklen:9, tickwidth:2, tickcolor:'#000', tickfont:{family:FONT, size:49, color:'#000'},
  ticklabeloverflow:'allow'};

// Grey hexagon strip along the left edge of the page (pixel outlines)
const px = (x, y) => ((x - 263) / 2610).toFixed(5) + ',' + (1 - (y - 79) / 840).toFixed(5);
const poly = (pts, color) => ({type:'path', xref:'paper', yref:'paper', layer:'below', fillcolor:color, line:{width:0},
  path:'M' + pts.map(p => px(p[0], p[1])).join('L') + 'Z'});
const hexStarts = [53,190,323,458,593,727,861];
const hexColors = ['#f9f9f9','#e6e6e6','#dcdcdc','#f9f9f9','#e4e4e4','#dadada','#fafafa'];
const sideApex = [55,191,323,458,592,726,861,996];
const sideColors = ['#ebebeb','#f0f0f0','#fafafa','#e6e6e6','#f4f4f4','#fafafa','#e8e8e8','#f0f0f0'];
const stripShapes = [
  poly([[0,0],[29,0],[29,52],[23,52],[0,15]], '#dcdcdc'),
  poly([[29,1003],[23,1003],[0,1041],[0,1043],[29,1043]], '#e4e4e4'),
  ...hexStarts.map((j, i) => poly([[29,j+6],[23,j+6],[0,j+44],[0,j+95],[23,j+128],[29,j+128]], hexColors[i])),
  ...sideApex.map((j, i) => poly([[15,j],[0,j-25],[0,j+27]], sideColors[i]))
];

const layout = {
  width:2887, height:1043, autosize:false, showlegend:false,
  paper_bgcolor:'#fff', plot_bgcolor:bandColors[0], barmode:'overlay',
  margin:{l:263, r:14, t:79, b:124, pad:0},
  font:{family:FONT, color:'#000'},
  title:{text:'h-Refine = 2, SUPG Stabilization = True, Crank-Nicolson <i>θ</i> = 0.6, Continuous flux = True, dt = 30 days, t = 10.03 years',
    x:4/2610, xanchor:'left', xref:'paper', y:1-68/1043, yanchor:'bottom', yref:'container',
    pad:{t:0,b:0,l:0,r:0}, font:{family:FONT, size:41, color:'#000'}},
  xaxis:{...axisCommon, domain:[0,1], anchor:'y', range:[-300,300], tickmode:'array', tickvals:xTicks,
    ticktext:xTicks.map(v => String(v).replace('-','−')), mirror:true, ticklabelstandoff:-17,
    title:{text:'<i>x</i> coordinate in m', standoff:7, font:{family:FONT, size:49, color:'#000'}}},
  yaxis:{...axisCommon, domain:[187/840,1], anchor:'x', range:[150,0], tickmode:'array', tickvals:depthTicks,
    mirror:true, title:{text:'Depth in m', standoff:5, font:{family:FONT, size:49, color:'#000'}}},
  xaxis2:{...axisCommon, domain:[0,1], anchor:'y2', range:[0,1], tickmode:'array', tickvals:bandEdges,
    ticktext:barTickLabels, mirror:true, ticklabelstandoff:-17,
    title:{text:'Normalized mass concentration, maximum Darcy flux: 3.6e-07 m/s', standoff:15, font:{family:FONT, size:49, color:'#000'}}},
  yaxis2:{domain:[0,40/840], anchor:'x2', range:[-0.5,0.5], showgrid:false, zeroline:false, showline:true,
    linecolor:'#000', linewidth:2, mirror:true, ticks:'', showticklabels:false},
  shapes:stripShapes
};

Plotly.newPlot('chart', traces, layout, {displayModeBar:false, staticPlot:true});
</script></body></html>
